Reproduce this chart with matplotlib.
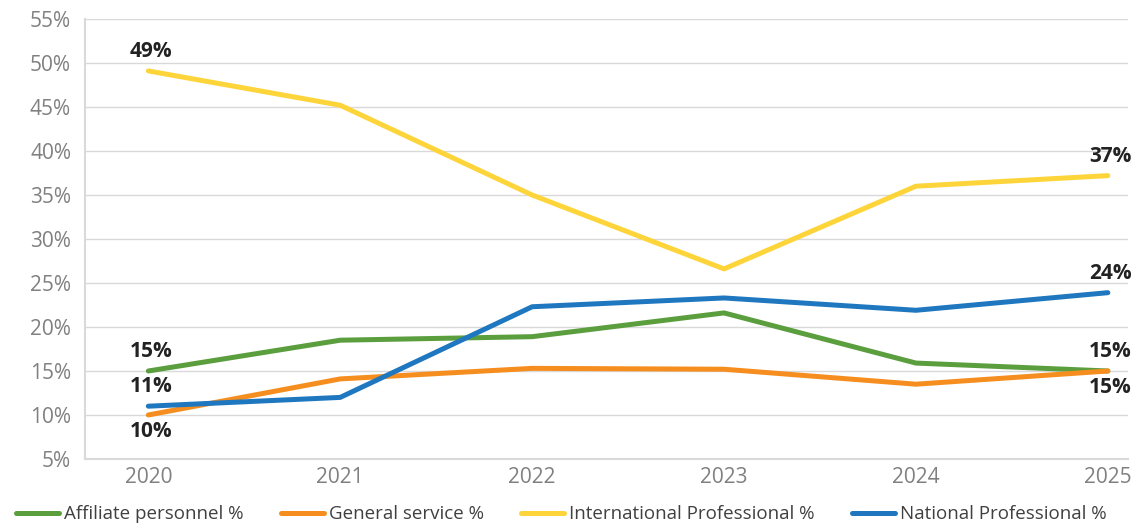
import matplotlib.pyplot as plt

years = ["2020", "2021", "2022", "2023", "2024", "2025"]
affiliate = [15.0, 18.5, 18.9, 21.6, 15.9, 15.0]
general = [10.0, 14.1, 15.3, 15.2, 13.5, 15.0]
international = [49.1, 45.2, 35.0, 26.6, 36.0, 37.2]
national = [11.0, 12.0, 22.3, 23.3, 21.9, 23.9]

series_names = ["Affiliate personnel %", "General service %",
                "International Professional %", "National Professional %"]
colors = ["#5A9E3E", "#F68D1F", "#FDD53A", "#1F77BF"]

# labels shown at first / last point: (series index, point index, text, above?)
point_labels = [
    (2, 0, "49%", True), (0, 0, "15%", True), (3, 0, "11%", True), (1, 0, "10%", False),
    (2, 5, "37%", True), (3, 5, "24%", True), (0, 5, "15%", True), (1, 5, "15%", False),
]

plt.rcParams['font.family'] = ['Open Sans', 'DejaVu Sans']

fig = plt.figure(figsize=(11.41, 5.28), dpi=100)
ax = fig.add_axes([0.0745, 0.1307, 0.9141, 0.8333])

x = list(range(len(years)))
all_series = [affiliate, general, international, national]
for vals, name, c in zip(all_series, series_names, colors):
    ax.plot(x, vals, color=c, lw=3.6, label=name, solid_capstyle='round')

for si, pi, txt, above in point_labels:
    ax.annotate(txt, (x[pi], all_series[si][pi]), xytext=(2, 14 if above else -12),
                textcoords='offset points', ha='center', va='center',
                fontsize=15, fontweight='bold', color='#222222')

ax.set_xlim(-0.33, 5.105)
ax.set_ylim(5, 55)
ax.set_yticks(range(5, 60, 5))
ax.set_yticklabels([f"{v}%" for v in range(5, 60, 5)])
ax.set_xticks(x)
ax.set_xticklabels(years)
ax.tick_params(length=0, labelsize=15, labelcolor='#808080', pad=6)
ax.tick_params(axis='y', pad=10)
ax.grid(axis='y', color='#d9d9d9', lw=1)
ax.set_axisbelow(True)
for side in ['top', 'right']:
    ax.spines[side].set_visible(False)
for side in ['left', 'bottom']:
    ax.spines[side].set_color('#d9d9d9')
    ax.spines[side].set_linewidth(1.5)

fig.legend(loc='center', bbox_to_anchor=(0.492, 0.026), ncol=4, frameon=False,
           fontsize=13.5, handlelength=2.3, columnspacing=2.0, handletextpad=0.25,
           labelcolor='#404040')

fig.savefig("out.png", dpi=100)
